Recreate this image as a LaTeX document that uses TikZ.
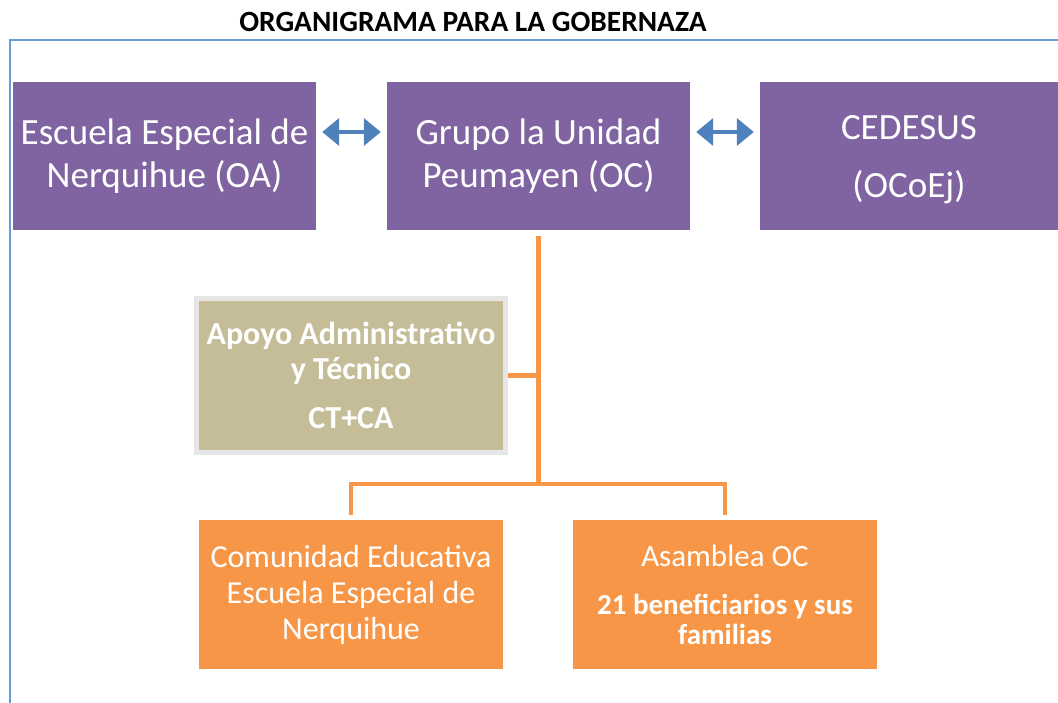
\documentclass[tikz,border=0pt]{standalone}
\usepackage{fontspec}
\setmainfont{Carlito}
\usetikzlibrary{arrows.meta}

\definecolor{morado}{HTML}{8064A2}
\definecolor{naranja}{HTML}{F79646}
\definecolor{azul}{HTML}{4F81BD}
\definecolor{marco}{HTML}{6C9BD2}
\definecolor{caqui}{HTML}{C4BD97}
\definecolor{gris}{HTML}{E6E6E6}

\begin{document}
\begin{tikzpicture}[x=1pt,y=-1pt,
	org/.style={shape=rectangle,fill=morado,text=white,align=center,minimum height=148pt,inner sep=0pt,font=\fontsize{37}{43}\selectfont},
	base/.style={shape=rectangle,fill=naranja,text=white,align=center,minimum width=304pt,minimum height=149pt,inner sep=0pt,font=\fontsize{32}{36}\selectfont},
	rama/.style={draw=naranja,line width=4.5pt},
	doble/.style={draw=azul,line width=4pt,{Triangle[length=17pt,width=27pt]}-{Triangle[length=17pt,width=27pt]},shorten <=6pt,shorten >=6pt}]
	
	\useasboundingbox (0,0) rectangle (1058,703);
	\draw[marco,line width=1.5pt] (10,703) -- (10,40) -- (1058,40);
	
	\node[font=\bfseries\fontsize{29.4}{32}\selectfont] (titulo) at (473,22) {ORGANIGRAMA PARA LA GOBERNAZA};
	
	\node[org,minimum width=303pt] (escuela) at (164.5,156) {Escuela Especial de\\Nerquihue (OA)};
	\node[org,minimum width=303pt] (grupo) at (538.5,156) {Grupo la Unidad\\Peumayen (OC)};
	\node[org,minimum width=298pt,text depth=-6pt] (cedesus) at (909,156) {CEDESUS\\[15pt](OCoEj)};
	
	\node[shape=rectangle,fill=caqui,draw=gris,line width=5pt,text=white,align=center,minimum width=309pt,minimum height=154pt,inner sep=0pt,font=\bfseries\fontsize{32}{35}\selectfont] (apoyo) at (351,375.5) {Apoyo Administrativo\\y Técnico\\[14pt]CT+CA};
	
	\node[base] (comunidad) at (351,594.5) {Comunidad Educativa\\Escuela Especial de\\Nerquihue};
	\node[base,font=\fontsize{31}{30}\selectfont] (asamblea) at (725,594.5) {Asamblea OC\\[18pt]\bfseries\fontsize{29}{30}\selectfont 21 beneficiarios y sus\\\bfseries\fontsize{29}{30}\selectfont familias};
	
	\coordinate (bot) at (538.5,484);
	
	\draw[doble] ([yshift=24pt]escuela.east) -- ([yshift=24pt]grupo.west);
	\draw[doble] ([yshift=24pt]grupo.east) -- ([yshift=24pt]cedesus.west);
	
	\draw[rama,shorten <=6pt] (grupo.south) -- (bot);
	\draw[rama] (apoyo) -- (apoyo -| grupo);
	\draw[rama,shorten <=5pt,shorten >=5pt] (comunidad.north) |- (bot) -| (asamblea.north);
	\end{tikzpicture}
\end{document}
